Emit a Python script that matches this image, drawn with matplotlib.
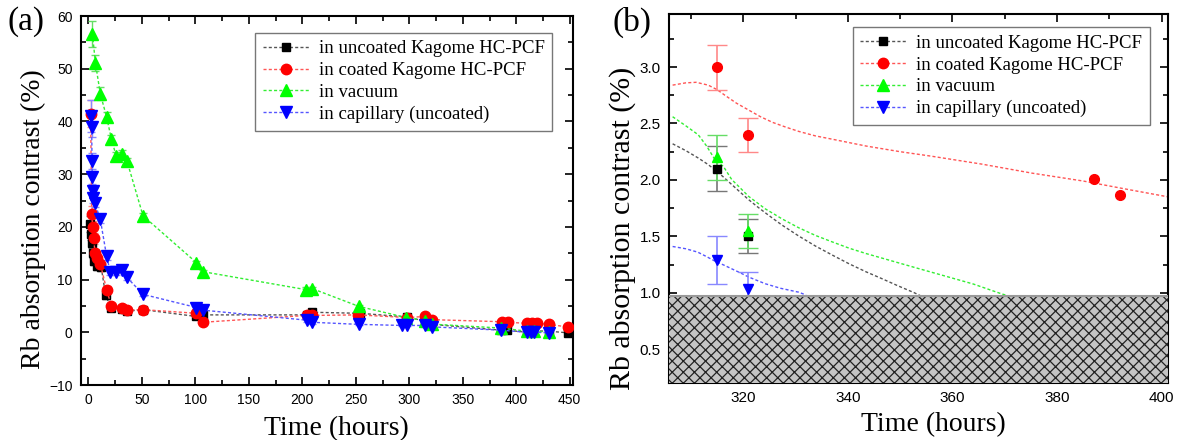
import numpy as np
import matplotlib.pyplot as plt
from matplotlib.ticker import MultipleLocator

# panel (a) data: time (hours) and Rb absorption contrast (%)
t_unc = [1, 2, 3, 4, 5, 8, 12, 16, 21, 31, 36, 51, 101, 107, 204, 209, 254, 298, 315, 321, 386, 391, 410, 415, 431, 448]
y_unc = [20.6, 18.7, 17.0, 15.0, 13.6, 12.6, 12.3, 7.0, 4.7, 4.5, 4.0, 4.3, 3.0, 3.3, 3.3, 3.8, 3.6, 2.9, 2.1, 1.5, 0.4, 0.4, 0.0, 0.3, 0.2, -0.1]
e_unc = [1.5, 1.2, 1.0, 1.0, 0.8, 0.8, 0.7, 0.6, 0.4, 0.4, 0.3, 0.3, 0.3, 0.3, 0.3, 0.3, 0.3, 0.2, 0.2, 0.15, 0.1, 0.1, 0.1, 0.1, 0.1, 0.1]

t_coa = [2, 3, 4, 5, 6, 8, 11, 17, 21.5, 31, 36, 51, 101, 107, 204, 209, 252, 298, 315, 321, 387, 392, 410, 415, 419, 431, 448]
y_coa = [41.5, 22.5, 19.9, 17.8, 15.0, 14.0, 13.0, 8.1, 4.9, 4.7, 4.2, 4.3, 3.6, 1.9, 3.2, 3.2, 3.3, 2.8, 3.0, 2.4, 2.0, 1.9, 1.7, 1.7, 1.7, 1.5, 1.0]
e_coa = [2.6, 1.5, 1.2, 1.0, 0.8, 0.8, 0.7, 0.6, 0.4, 0.4, 0.3, 0.3, 0.3, 0.3, 0.3, 0.3, 0.3, 0.2, 0.2, 0.15, 0.05, 0.05, 0.1, 0.1, 0.1, 0.1, 0.1]

t_vac = [3.7, 6.5, 11, 17, 21.5, 26, 31.5, 36, 51, 101, 107, 203, 209, 253, 297, 315, 321, 386, 410, 417, 431]
y_vac = [56.6, 51.1, 45.3, 40.8, 36.6, 33.4, 33.8, 32.5, 22.1, 13.2, 11.5, 8.1, 8.3, 4.9, 2.8, 2.2, 1.55, 0.8, 0.2, 0.2, 0.0]
e_vac = [2.5, 1.5, 1.2, 1.0, 0.8, 0.8, 0.7, 0.6, 0.5, 0.4, 0.4, 0.4, 0.3, 0.3, 0.2, 0.2, 0.15, 0.1, 0.1, 0.1, 0.1]

t_cap = [2, 3, 3.3, 3.5, 3.8, 4.5, 6, 11, 17, 20.5, 26, 31.5, 36, 51, 101, 107, 204, 209, 253, 293, 298, 315, 321, 386, 410, 414, 417, 431]
y_cap = [41.0, 39.0, 32.5, 29.4, 26.8, 25.5, 24.5, 21.5, 14.4, 11.4, 11.4, 11.9, 10.4, 7.2, 4.7, 4.2, 2.3, 1.9, 1.5, 1.3, 1.3, 1.29, 1.03, 0.4, 0.0, 0.0, 0.0, -0.1]
e_cap = [3.0, 2.0, 1.5, 1.2, 1.0, 1.0, 0.8, 0.7, 0.6, 0.5, 0.5, 0.5, 0.4, 0.4, 0.3, 0.3, 0.3, 0.3, 0.2, 0.2, 0.2, 0.2, 0.15, 0.1, 0.1, 0.1, 0.1, 0.1]

# panel (b) data: late-time points with error bars (0 = bar hidden by marker)
tb_unc = [315, 321]
yb_unc = [2.1, 1.5]
eb_unc = [0.2, 0.15]
tb_coa = [315, 321, 387, 392]
yb_coa = [3.0, 2.4, 2.01, 1.87]
eb_coa = [0.2, 0.15, 0.0, 0.0]
tb_vac = [315, 321]
yb_vac = [2.2, 1.55]
eb_vac = [0.2, 0.15]
tb_cap = [315, 321]
yb_cap = [1.29, 1.03]
eb_cap = [0.21, 0.15]

# fitted trend curves in panel (b)
fit_unc_t = [306.5, 309, 311.4, 313, 314.6, 316.2, 317.8, 319.4, 321, 322.6, 324.2, 325.8, 327.4, 330.6, 333.8, 337.1, 340.3, 343.5, 346.5, 349.5, 352.7, 353.8]
fit_unc_y = [2.32, 2.26, 2.194, 2.145, 2.091, 2.026, 1.959, 1.892, 1.826, 1.766, 1.709, 1.654, 1.600, 1.503, 1.414, 1.332, 1.255, 1.185, 1.125, 1.063, 1.0, 0.975]
fit_coa_t = [306.5, 309, 311, 313.3, 315, 316.5, 318.7, 321, 323.3, 325.6, 328, 330.6, 333.8, 337.1, 340.3, 343.5, 350, 356, 365.6, 375.2, 385, 393, 401.2]
fit_coa_y = [2.84, 2.86, 2.865, 2.84, 2.80, 2.75, 2.68, 2.62, 2.56, 2.51, 2.47, 2.43, 2.39, 2.36, 2.33, 2.30, 2.25, 2.21, 2.14, 2.06, 1.99, 1.92, 1.85]
fit_vac_t = [306.5, 309, 311.4, 313, 314.6, 316.2, 317.8, 319.4, 321, 322.6, 324.2, 325.8, 327.4, 330.6, 333.8, 337.1, 340.3, 343.5, 346.3, 352.7, 359.2, 364, 369.4, 370.5]
fit_vac_y = [2.56, 2.48, 2.40, 2.30, 2.179, 2.12, 2.003, 1.93, 1.855, 1.80, 1.744, 1.70, 1.655, 1.576, 1.508, 1.449, 1.394, 1.347, 1.31, 1.225, 1.14, 1.077, 0.99, 0.975]
fit_cap_t = [306.5, 309, 311.3, 313, 314.6, 316.3, 317.9, 319.5, 321, 322.6, 324.2, 327.1, 330.6, 332]
fit_cap_y = [1.41, 1.39, 1.36, 1.32, 1.28, 1.245, 1.21, 1.175, 1.14, 1.11, 1.08, 1.04, 1.005, 0.98]
limite = 0.975

labels = ['in uncoated Kagome HC-PCF', 'in coated Kagome HC-PCF', 'in vacuum', 'in capillary (uncoated)']
mcol = ['#000000', '#ff0000', '#00ff00', '#0000ff']
lcol = ['#555555', '#ff5555', '#33ee33', '#5555ff']
ecol = ['#777777', '#ff8888', '#66dd66', '#8888ff']
mk = ['s', 'o', '^', 'v']
ms = [6, 7.5, 8, 8]
dash = (0, (2.2, 1.6))

plt.rcParams['font.family'] = ['Liberation Serif']
plt.rcParams['hatch.linewidth'] = 0.9
fig = plt.figure(figsize=(11.84, 4.4), dpi=100)

def ticks(ax, xmaj, xmin, ymaj, ymin, fs):
	ax.xaxis.set_major_locator(MultipleLocator(xmaj))
	ax.xaxis.set_minor_locator(MultipleLocator(xmin))
	ax.yaxis.set_major_locator(MultipleLocator(ymaj))
	ax.yaxis.set_minor_locator(MultipleLocator(ymin))
	ax.tick_params(which='both', direction='in', top=True, right=True, width=1.2)
	ax.tick_params(which='major', length=6, pad=6)
	ax.tick_params(which='minor', length=3.5)
	for lab in ax.get_xticklabels() + ax.get_yticklabels():
		lab.set_fontfamily('Liberation Sans')
		lab.set_fontsize(fs)
	for s in ax.spines.values():
		s.set_linewidth(1.5)

#panel (a)
ax1 = fig.add_axes([0.0684, 0.125, 0.4155, 0.8386])
series_a = [(t_unc, y_unc, e_unc), (t_coa, y_coa, e_coa), (t_vac, y_vac, e_vac), (t_cap, y_cap, e_cap)]
for i, (t, y, e) in enumerate(series_a):
	ax1.errorbar(t, y, yerr=e, fmt='none', ecolor=ecol[i], elinewidth=1, capsize=3, zorder=2)
	ax1.plot(t, y, color=lcol[i], linestyle=dash, linewidth=1, marker=mk[i], markersize=ms[i],
		markerfacecolor=mcol[i], markeredgecolor=mcol[i], label=labels[i], zorder=3)
ax1.set_xlim(-7, 453)
ax1.set_ylim(-10, 60)
ticks(ax1, 50, 25, 10, 5, 10)
ax1.set_xlabel('Time (hours)', fontsize=20)
ax1.set_ylabel('Rb absorption contrast (%)', fontsize=20)
ax1.xaxis.set_label_coords(0.52, -0.085)
ax1.yaxis.set_label_coords(-0.072, 0.45)
leg = ax1.legend(loc='upper right', bbox_to_anchor=(0.977, 0.98), fontsize=13.5, frameon=True, fancybox=False,
	edgecolor='#555555', handlelength=2.5, handletextpad=0.5, borderpad=0.4, labelspacing=0.25)
leg.get_frame().set_linewidth(1)
fig.text(0.022, 0.95, '(a)', fontsize=24, va='center', ha='center')

#panel (b)
ax2 = fig.add_axes([0.565, 0.1295, 0.4215, 0.8386])
fits = [(fit_unc_t, fit_unc_y), (fit_coa_t, fit_coa_y), (fit_vac_t, fit_vac_y), (fit_cap_t, fit_cap_y)]
pts = [(tb_unc, yb_unc, eb_unc), (tb_coa, yb_coa, eb_coa), (tb_vac, yb_vac, eb_vac), (tb_cap, yb_cap, eb_cap)]
for i in range(4):
	ax2.plot(fits[i][0], fits[i][1], color=lcol[i], linestyle=dash, linewidth=1, zorder=2)
	t, y, e = [np.array(a) for a in pts[i]]
	m = e > 0
	ax2.errorbar(t[m], y[m], yerr=e[m], fmt='none', ecolor=ecol[i], elinewidth=1.2, capsize=7, zorder=3)
	ax2.plot(t, y, linestyle='none', marker=mk[i], markersize=ms[i] - 0.5, color=mcol[i], zorder=4)
	ax2.plot([], [], color=lcol[i], linestyle=dash, linewidth=1, marker=mk[i], markersize=ms[i],
		markerfacecolor=mcol[i], markeredgecolor=mcol[i], label=labels[i])
ax2.set_xlim(305.8, 401.2)
ax2.set_ylim(0.2, 3.47)
ax2.axhspan(0.2, limite, facecolor='#c4c4c4', edgecolor='#222222', hatch='xxx', linewidth=0, zorder=5)
ax2.axhline(limite, color='#999999', linewidth=1.5, zorder=6)
ticks(ax2, 20, 10, 0.5, 0.25, 11)
ax2.set_xlabel('Time (hours)', fontsize=20)
ax2.set_ylabel('Rb absorption contrast (%)', fontsize=21.5)
ax2.xaxis.set_label_coords(0.53, -0.08)
ax2.yaxis.set_label_coords(-0.066, 0.42)
leg2 = ax2.legend(loc='upper right', bbox_to_anchor=(0.982, 0.99), fontsize=13.5, frameon=True, fancybox=False,
	edgecolor='#555555', handlelength=2.5, handletextpad=0.5, borderpad=0.4, labelspacing=0.25)
leg2.get_frame().set_linewidth(1)
fig.text(0.534, 0.95, '(b)', fontsize=24, va='center', ha='center')

fig.savefig('out.png', dpi=100)
